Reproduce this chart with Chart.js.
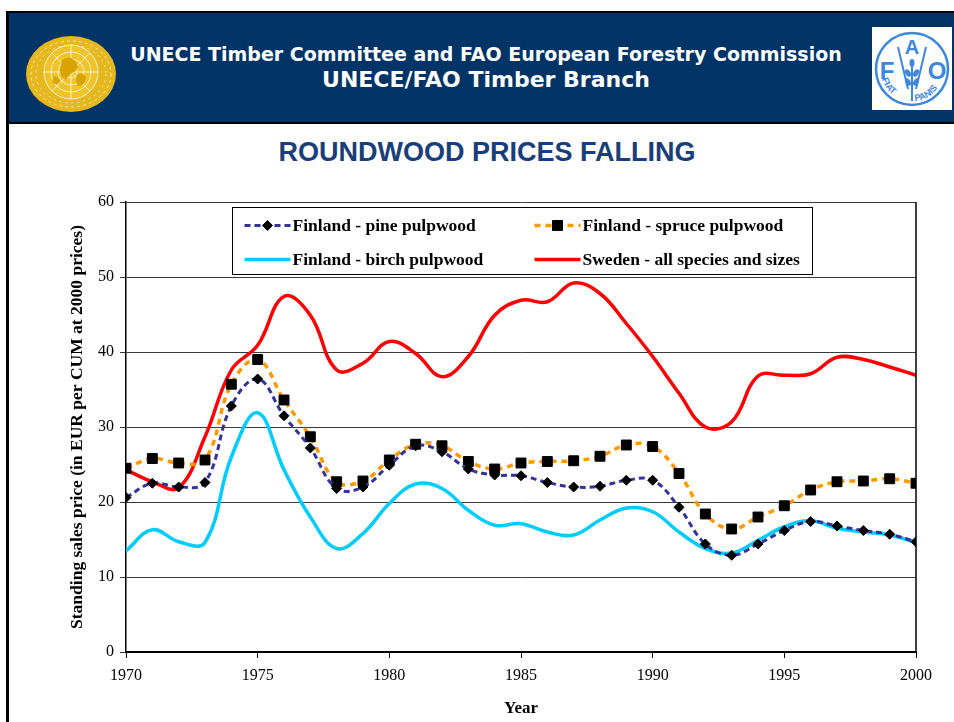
<!DOCTYPE html>
<html>
<head>
<meta charset="utf-8">
<script src="https://cdn.jsdelivr.net/npm/chart.js@4.4.0/dist/chart.umd.min.js"></script>
<style>
  html, body { margin: 0; padding: 0; background: #fff; }
  body { width: 954px; height: 722px; position: relative; overflow: hidden; }
  #frame { position: absolute; left: 6px; top: 11px; width: 948px; height: 711px;
           border-left: 3px solid #000; border-top: 2px solid #000; box-sizing: border-box; }
  #header { position: absolute; left: 9px; top: 13px; width: 945px; height: 109px;
            background: #003366; border-bottom: 2px solid #000; }
  .htext { position: absolute; left: 9px; width: 954px; text-align: center; color: #fff;
           font-family: "DejaVu Sans", Verdana, sans-serif; font-weight: bold; }
  #title { position: absolute; left: 0; width: 974px; top: 137px; text-align: center;
           font-family: "Liberation Sans", Arial, sans-serif; font-weight: bold; font-size: 27px;
           color: #1a3e7a; }
  #un { position: absolute; left: 24px; top: 34px; }
  #fao { position: absolute; left: 872px; top: 27px; }
  #c { position: absolute; left: 0; top: 0; }
</style>
</head>
<body>
<div id="frame"></div>
<div id="header"></div>
<div class="htext" style="top:43px; font-size:19px;">UNECE Timber Committee and FAO European Forestry Commission</div>
<div class="htext" style="top:67px; font-size:22px;">UNECE/FAO Timber Branch</div>

<svg id="un" width="94" height="80" viewBox="0 0 94 80">
  <ellipse cx="47" cy="40" rx="45" ry="38" fill="#e6b820"/>
  <g fill="none" stroke="#f7e6a8" stroke-width="1">
    <ellipse cx="47" cy="40" rx="40" ry="33" stroke-dasharray="3 3"/>
    <ellipse cx="47" cy="40" rx="35" ry="29" stroke-dasharray="2 4"/>
  </g>
  <circle cx="47" cy="38" r="27" fill="#efc42a"/>
  <g fill="none" stroke="#fbf0c8" stroke-width="1">
    <circle cx="47" cy="38" r="27"/>
    <circle cx="47" cy="38" r="20"/>
    <circle cx="47" cy="38" r="13"/>
    <circle cx="47" cy="38" r="6"/>
    <line x1="20" y1="38" x2="74" y2="38"/>
    <line x1="47" y1="11" x2="47" y2="65"/>
    <line x1="28" y1="19" x2="66" y2="57"/>
    <line x1="66" y1="19" x2="28" y2="57"/>
  </g>
  <g fill="#d9a400">
    <path d="M38 26 q8 -6 14 2 q4 6 -2 10 q-6 2 -8 8 q-6 -4 -6 -10 z"/>
    <path d="M54 40 q6 -2 8 4 q-2 8 -8 8 q-4 -6 0 -12 z"/>
    <path d="M30 42 q4 0 6 6 q-4 4 -8 0 z"/>
  </g>
</svg>

<svg id="fao" width="80" height="83" viewBox="0 0 80 83">
  <rect x="0" y="0" width="80" height="83" fill="#fff"/>
  <circle cx="40" cy="42" r="36" fill="none" stroke="#3d87dc" stroke-width="2.5"/>
  <g fill="#3d87dc" font-family="Liberation Sans, Arial, sans-serif" font-weight="bold" text-anchor="middle">
    <text x="15" y="52" font-size="24">F</text>
    <text x="40" y="27" font-size="20">A</text>
    <text x="65" y="52" font-size="24">O</text>
  </g>
  <g stroke="#3d87dc" fill="none" stroke-width="2">
    <line x1="40" y1="34" x2="40" y2="74"/>
    <path d="M26 20 L36 62"/>
    <path d="M54 20 L44 62"/>
  </g>
  <g fill="#3d87dc">
    <ellipse cx="40" cy="36" rx="2.5" ry="4"/>
    <ellipse cx="36" cy="46" rx="2.5" ry="4" transform="rotate(-30 36 46)"/>
    <ellipse cx="44" cy="46" rx="2.5" ry="4" transform="rotate(30 44 46)"/>
    <ellipse cx="36" cy="55" rx="2.5" ry="4" transform="rotate(-30 36 55)"/>
    <ellipse cx="44" cy="55" rx="2.5" ry="4" transform="rotate(30 44 55)"/>
  </g>
  <defs>
    <path id="arcL" d="M10 52 A31 31 0 0 0 37 74"/>
    <path id="arcR" d="M43 74 A31 31 0 0 0 70 52"/>
  </defs>
  <g fill="#3d87dc" font-family="Liberation Sans, Arial, sans-serif" font-weight="bold" font-size="9">
    <text><textPath href="#arcL">FIAT</textPath></text>
    <text><textPath href="#arcR">PANIS</textPath></text>
  </g>
</svg>

<div id="title">ROUNDWOOD PRICES FALLING</div>

<canvas id="c" width="954" height="722"></canvas>

<script>
// data (EUR per CUM at 2000 prices)
const years = [1970, 1971, 1972, 1973, 1974, 1975, 1976, 1977, 1978, 1979,
               1980, 1981, 1982, 1983, 1984, 1985, 1986, 1987, 1988, 1989,
               1990, 1991, 1992, 1993, 1994, 1995, 1996, 1997, 1998, 1999, 2000];

const pinePulpwood = [20.6, 22.5, 22.0, 22.6, 32.8, 36.4, 31.5, 27.2, 21.8, 22.0,
                      24.9, 27.5, 26.7, 24.4, 23.6, 23.5, 22.6, 22.0, 22.1, 22.9,
                      22.9, 19.3, 14.4, 12.9, 14.4, 16.2, 17.4, 16.8, 16.2, 15.7, 14.7];

const sprucePulpwood = [24.5, 25.8, 25.2, 25.6, 35.7, 39.0, 33.6, 28.7, 22.7, 22.8,
                        25.6, 27.7, 27.5, 25.4, 24.4, 25.2, 25.4, 25.5, 26.1, 27.6,
                        27.4, 23.8, 18.4, 16.4, 18.0, 19.5, 21.6, 22.7, 22.8, 23.1, 22.5];

const birchPulpwood = [13.5, 16.3, 14.7, 14.6, 26.0, 31.9, 24.3, 18.0, 13.8, 15.8,
                       19.8, 22.4, 21.8, 18.9, 16.9, 17.1, 16.0, 15.6, 17.6, 19.2,
                       18.7, 16.0, 13.8, 13.2, 14.9, 16.7, 17.5, 16.5, 16.0, 15.6, 14.6];

const swedenAll = [24.3, 22.7, 21.9, 28.7, 37.6, 40.9, 47.4, 44.9, 37.6, 38.5,
                   41.4, 39.8, 36.7, 39.4, 44.9, 46.9, 46.7, 49.2, 47.8, 43.8,
                   39.4, 34.5, 30.0, 30.7, 36.8, 36.9, 37.1, 39.3, 39.0, 38.0, 36.9];

const seriesLabels = ['Finland - pine pulpwood', 'Finland - spruce pulpwood',
                      'Finland - birch pulpwood', 'Sweden - all species and sizes'];

const yTicks = [0, 10, 20, 30, 40, 50, 60];
const xTicks = [1970, 1975, 1980, 1985, 1990, 1995, 2000];

function toPoints(values) {
    return years.map((yr, i) => ({ x: yr, y: values[i] }));
}

const serif = "'Liberation Serif', 'Times New Roman', serif";

// legend drawn as a boxed 2x2 grid, like the Excel original
const boxedLegend = {
    id: 'boxedLegend',
    afterDatasetsDraw(chart) {
        const ctx = chart.ctx;
        const area = chart.chartArea;
        const bx = area.left + 106.5, by = area.top + 5.5, bw = 580, bh = 67;
        ctx.save();
        ctx.fillStyle = '#fff';
        ctx.fillRect(bx, by, bw, bh);
        ctx.strokeStyle = '#000';
        ctx.lineWidth = 1;
        ctx.strokeRect(bx, by, bw, bh);

        chart.data.datasets.forEach((ds, i) => {
            const col = i % 2, row = Math.floor(i / 2);
            const x0 = bx + (col === 0 ? 12 : 302);
            const y0 = by + (row === 0 ? 18 : 52);
            ctx.save();
            ctx.strokeStyle = ds.borderColor;
            ctx.lineWidth = ds.borderWidth;
            ctx.setLineDash(ds.borderDash || []);
            ctx.beginPath();
            ctx.moveTo(x0, y0);
            ctx.lineTo(x0 + 46, y0);
            ctx.stroke();
            ctx.restore();
            if (ds.pointRadius > 0) {
                Chart.helpers.drawPoint(ctx, {
                    pointStyle: ds.pointStyle, radius: ds.pointRadius, rotation: 0,
                    borderWidth: 1
                }, x0 + 23, y0);
                ctx.fillStyle = '#000';
                ctx.fill();
            }
            ctx.fillStyle = '#000';
            ctx.font = "bold 17.5px " + serif;
            ctx.textBaseline = 'middle';
            ctx.textAlign = 'left';
            ctx.fillText(ds.label, x0 + 48, y0 + 1);
        });

        // right-hand frame of the plot area
        ctx.strokeStyle = '#000';
        ctx.lineWidth = 1.5;
        ctx.beginPath();
        ctx.moveTo(area.right, area.top);
        ctx.lineTo(area.right, area.bottom);
        ctx.stroke();
        ctx.restore();
    }
};

new Chart(document.getElementById('c'), {
    type: 'line',
    data: {
        datasets: [
            {
                label: seriesLabels[0],
                data: toPoints(pinePulpwood),
                borderColor: '#333399',
                borderWidth: 3,
                borderDash: [6, 4],
                pointStyle: 'rectRot',
                pointRadius: 5,
                pointBackgroundColor: '#000',
                pointBorderColor: '#000',
                pointBorderWidth: 1
            },
            {
                label: seriesLabels[1],
                data: toPoints(sprucePulpwood),
                borderColor: '#ff9900',
                borderWidth: 3.5,
                borderDash: [6, 5],
                pointStyle: 'rect',
                pointRadius: 7,
                pointBackgroundColor: '#000',
                pointBorderColor: '#000',
                pointBorderWidth: 1
            },
            {
                label: seriesLabels[2],
                data: toPoints(birchPulpwood),
                borderColor: '#00ccff',
                borderWidth: 3.5,
                pointRadius: 0
            },
            {
                label: seriesLabels[3],
                data: toPoints(swedenAll),
                borderColor: '#ff0000',
                borderWidth: 3.5,
                pointRadius: 0
            }
        ]
    },
    options: {
        responsive: false,
        animation: false,
        elements: { line: { tension: 0.4 } },
        layout: { padding: { top: 202, right: 38, left: 0, bottom: 0 } },
        plugins: {
            legend: { display: false },
            tooltip: { enabled: false }
        },
        scales: {
            x: {
                type: 'linear',
                min: 1970,
                max: 2000,
                afterFit: (scale) => { scale.height = 70; },
                afterBuildTicks: (scale) => { scale.ticks = xTicks.map(v => ({ value: v })); },
                ticks: {
                    color: '#000',
                    font: { family: serif, size: 16 },
                    padding: 8,
                    maxRotation: 0,
                    callback: (v) => String(v)
                },
                grid: { drawOnChartArea: false, drawTicks: true, tickLength: 6, color: '#000' },
                border: { color: '#000', width: 2 },
                title: {
                    display: true,
                    text: 'Year',
                    color: '#000',
                    font: { family: serif, size: 17, weight: 'bold' },
                    padding: { top: 0, bottom: 3 }
                }
            },
            y: {
                min: 0,
                max: 60,
                afterFit: (scale) => { scale.width = 126; },
                afterBuildTicks: (scale) => { scale.ticks = yTicks.map(v => ({ value: v })); },
                ticks: {
                    color: '#000',
                    font: { family: serif, size: 16 },
                    padding: 6
                },
                grid: { color: '#3a3a3a', lineWidth: 1, tickLength: 6 },
                border: { color: '#000', width: 1.5 },
                title: {
                    display: true,
                    text: 'Standing sales price (in EUR per CUM at 2000 prices)',
                    color: '#000',
                    font: { family: serif, size: 17.5, weight: 'bold' },
                    padding: { top: 67, bottom: 0 }
                }
            }
        }
    },
    plugins: [boxedLegend]
});
</script>
</body>
</html>
